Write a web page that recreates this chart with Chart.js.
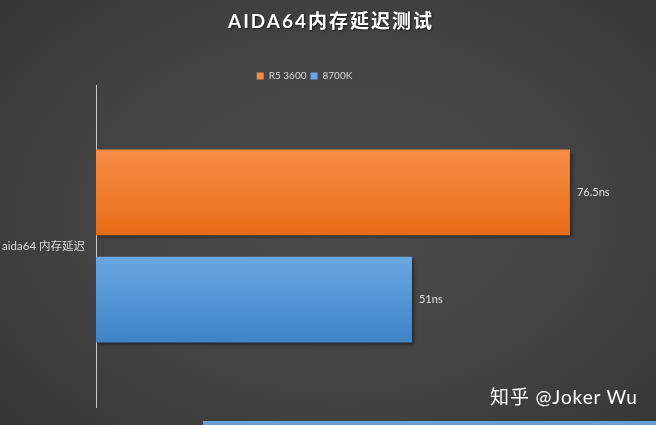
<!DOCTYPE html>
<html><head><meta charset="utf-8">
<script src="https://cdn.jsdelivr.net/npm/chart.js@4/dist/chart.umd.min.js"></script>
<style>
html,body{margin:0;padding:0;}
body{width:656px;height:425px;overflow:hidden;position:relative;
background:radial-gradient(ellipse 70% 75% at 52% 50%, #4c4c4c 0%, #434343 55%, #363636 100%);}
#wrap{position:absolute;left:0;top:0;width:656px;height:425px;}
#wm{position:absolute;left:490px;top:382px;color:#fff;font:19px Lato,"Noto Sans CJK SC",sans-serif;white-space:nowrap;letter-spacing:0.9px;}
#strip{position:absolute;left:203px;top:421px;width:453px;height:4px;background:#6a9fd6;}
</style></head>
<body>
<div id="wrap"><canvas id="c" width="656" height="425"></canvas></div>
<div id="wm">知乎 @Joker Wu</div>
<div id="strip"></div>
<script>
const categories = ["aida64 内存延迟"];
const seriesNames = ["R5 3600", "8700K"];
const r5Values = [76.5];
const i7Values = [51];
const valueLabels = ["76.5ns", "51ns"];
const titleText = "AIDA64内存延迟测试";

const FONT = 'Lato, "Noto Sans CJK SC", sans-serif';

function grad(top, bottom){
  return function(c){
    const ch = c.chart; const a = ch.chartArea;
    if(!a) return top;
    const el = c.element;
    let y0 = a.top, y1 = a.bottom;
    if (el && isFinite(el.y) && isFinite(el.height) && el.height > 0) {
      y0 = el.y - el.height/2; y1 = el.y + el.height/2;
    }
    const g = ch.ctx.createLinearGradient(0, y0, 0, y1);
    g.addColorStop(0, top); g.addColorStop(1, bottom);
    return g;
  };
}

const titlePlugin = {
  id:'spacedTitle',
  afterDraw(chart){
    const ctx = chart.ctx;
    ctx.save();
    ctx.font = 'bold 19px ' + FONT;
    ctx.letterSpacing = '2px';
    ctx.fillStyle = '#ffffff';
    ctx.textAlign = 'center';
    ctx.textBaseline = 'middle';
    ctx.shadowColor = 'rgba(0,0,0,0.6)';
    ctx.shadowOffsetX = 1; ctx.shadowOffsetY = 1; ctx.shadowBlur = 2;
    ctx.fillText(titleText, 331, 22);
    ctx.restore();
  }
};

const labelPlugin = {
  id:'vlabels',
  afterDatasetsDraw(chart){
    const ctx = chart.ctx;
    ctx.save();
    ctx.font = '11px ' + FONT;
    ctx.fillStyle = '#e0e0e0';
    ctx.textBaseline = 'middle';
    chart.data.datasets.forEach((ds, i) => {
      const meta = chart.getDatasetMeta(i);
      meta.data.forEach((bar) => {
        ctx.fillText(valueLabels[i], bar.x + 7, bar.y);
      });
    });
    ctx.restore();
  }
};

const shadowPlugin = {
  id:'barShadow',
  beforeDatasetsDraw(chart){
    chart.ctx.save();
    chart.ctx.shadowColor='rgba(0,0,0,0.45)';
    chart.ctx.shadowOffsetX=2;
    chart.ctx.shadowOffsetY=2;
    chart.ctx.shadowBlur=3;
  },
  afterDatasetsDraw(chart){ chart.ctx.restore(); }
};

const chart = new Chart(document.getElementById('c'), {
  type:'bar',
  data:{
    labels: categories,
    datasets:[
      {label: seriesNames[0], data: r5Values, backgroundColor: '#f07f2e'},
      {label: seriesNames[1], data: i7Values, backgroundColor: '#4f93d6'}
    ]
  },
  options:{
    indexAxis:'y',
    responsive:false,
    animation:false,
    devicePixelRatio:1,
    layout:{padding:{top:67,right:47,bottom:17,left:0}},
    datasets:{bar:{categoryPercentage:0.666,barPercentage:0.8}},
    scales:{
      x:{display:false,min:0,max:82.8},
      y:{
        grid:{display:false,drawOnChartArea:false,drawTicks:false},
        border:{display:true,color:'#c8c8c8',width:1},
        ticks:{color:'#dcdcdc',font:{size:11.5,family:FONT},padding:11},
        afterFit(s){ s.width = 96; }
      }
    },
    plugins:{
      title:{display:false},
      legend:{position:'top',maxHeight:18,labels:{color:'#d9d9d9',boxWidth:7,boxHeight:7,
        font:{size:10,family:FONT},padding:4}},
      tooltip:{enabled:false}
    }
  },
  plugins:[shadowPlugin,labelPlugin,titlePlugin]
});
chart.data.datasets[0].backgroundColor = grad('#f68d45','#e96c17');
chart.data.datasets[1].backgroundColor = grad('#6aa7e2','#3d84c7');
chart.update();
</script>
</body></html>
